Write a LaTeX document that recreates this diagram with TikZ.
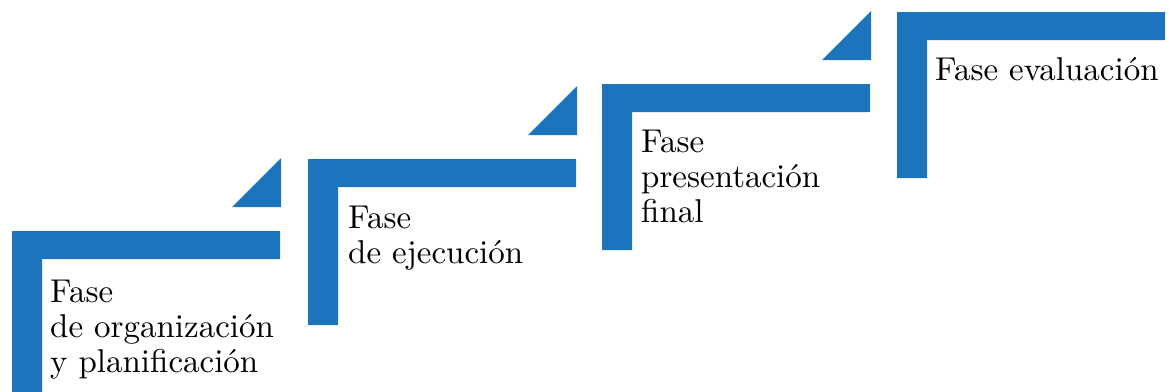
\documentclass[tikz,border=0pt]{standalone}
\usepackage{fontspec}
\setmainfont{lmroman10-regular.otf}
\definecolor{stepblue}{HTML}{1C75BC}
\tikzset{
  stepbar/.style={fill=stepblue},
  steplabel/.style={anchor=north west, align=left, inner sep=0pt,
    font=\fontsize{33}{35}\selectfont}
}
\begin{document}
\begin{tikzpicture}[x=1pt,y=-1pt]
  \useasboundingbox (0,0) rectangle (1172,391);

  % the four corner bars
  \foreach \x/\y in {12/231,308/159,602/84,897/12}
    \fill[stepbar] (\x,\y) -- ++(268,0) -- ++(0,28) -- ++(-238,0)
      -- ++(0,138) -- ++(-30,0) -- cycle;

  % the triangles over the bar ends
  \foreach \x/\y in {12/231,308/159,602/84}
    \fill[stepbar] (\x+269,\y-24) -- ++(0,-49) -- ++(-49,49) -- cycle;

  \node[steplabel] (fase1) at (50,280) {Fase\\de organización\\y planificación};
  \node[steplabel] (fase2) at (348,206) {Fase\\de ejecución};
  \node[steplabel] (fase3) at (641,130) {Fase\\presentación\\final};
  \node[steplabel] (fase4) at (935,57)  {Fase evaluación};

\end{tikzpicture}
\end{document}
